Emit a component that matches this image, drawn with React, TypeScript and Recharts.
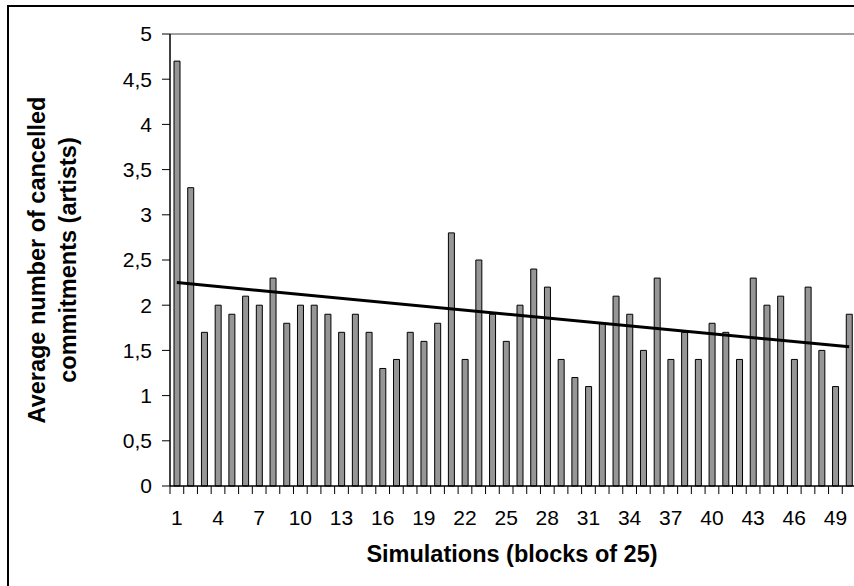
import { ComposedChart, Bar, Line, XAxis, YAxis, ReferenceLine } from "recharts"

const blocks = Array.from({ length: 50 }, (_, i) => i + 1)

const cancelled = [
  4.7, 3.3, 1.7, 2.0, 1.9, 2.1, 2.0, 2.3, 1.8, 2.0,
  2.0, 1.9, 1.7, 1.9, 1.7, 1.3, 1.4, 1.7, 1.6, 1.8,
  2.8, 1.4, 2.5, 1.9, 1.6, 2.0, 2.4, 2.2, 1.4, 1.2,
  1.1, 1.8, 2.1, 1.9, 1.5, 2.3, 1.4, 1.7, 1.4, 1.8,
  1.7, 1.4, 2.3, 2.0, 2.1, 1.4, 2.2, 1.5, 1.1, 1.9,
]

// linear trend line at first and last block
const trendStart = 2.25
const trendEnd = 1.54

const yTicks = [0, 0.5, 1, 1.5, 2, 2.5, 3, 3.5, 4, 4.5, 5]

const data = blocks.map((b, i) => ({
  block: b,
  value: cancelled[i],
  trend: i === 0 ? trendStart : i === blocks.length - 1 ? trendEnd : null,
}))

const FONT = "'Liberation Sans', Arial, sans-serif"
const BAND = 686 / 50

const XTick = (props: any) => {
  const { x, y, payload, index } = props
  const lx = x - BAND / 2
  return (
    <g>
      <line x1={lx} y1={y} x2={lx} y2={y + 8} stroke="#000" strokeWidth={1} />
      {index % 3 === 0 && (
        <text x={x} y={y + 39} textAnchor="middle" fontFamily={FONT} fontSize={21} fill="#000">
          {payload.value}
        </text>
      )}
    </g>
  )
}

export default function App() {
  return (
    <div style={{ position: "absolute", left: 0, top: 0, width: 854, height: 586, overflow: "hidden", background: "#fff" }}>
      <div style={{ position: "absolute", left: 7, top: 5, width: 900, height: 700, border: "2px solid #000", boxSizing: "border-box" }} />
      <div style={{ position: "absolute", left: 0, top: 0 }}>
        <ComposedChart width={870} height={586} data={data} margin={{ top: 34, right: 14, left: 0, bottom: 0 }}>
          <XAxis
            dataKey="block"
            interval={0}
            height={100}
            tickLine={false}
            tickSize={0}
            tickMargin={0}
            axisLine={{ stroke: "#000", strokeWidth: 1.5 }}
            tick={<XTick />}
          />
          <YAxis
            domain={[0, 5]}
            ticks={yTicks}
            width={170}
            tickSize={8}
            tickMargin={10}
            axisLine={{ stroke: "#000", strokeWidth: 1.5 }}
            tickLine={{ stroke: "#000" }}
            tick={{ fontFamily: FONT, fontSize: 21, fill: "#000" }}
            tickFormatter={(v: number) => String(v).replace(".", ",")}
          />
          <ReferenceLine y={5} stroke="#a0a0a0" strokeWidth={2} />
          <Bar dataKey="value" fill="#969696" stroke="#000" strokeWidth={1} barSize={6} isAnimationActive={false} />
          <Line dataKey="trend" stroke="#000" strokeWidth={3} dot={false} connectNulls isAnimationActive={false} />
        </ComposedChart>
      </div>
      <div
        style={{
          position: "absolute", left: 312, top: 539, width: 400, textAlign: "center",
          fontFamily: FONT, fontWeight: "bold", fontSize: 23.5, lineHeight: "31px", color: "#000",
        }}
      >
        Simulations (blocks of 25)
      </div>
      <div
        style={{
          position: "absolute", left: 53 - 200, top: 260 - 31, width: 400, height: 62,
          transform: "rotate(-90deg)", textAlign: "center",
          fontFamily: FONT, fontWeight: "bold", fontSize: 23.5, lineHeight: "31px", color: "#000",
        }}
      >
        Average number of cancelled
        <br />
        commitments (artists)
      </div>
    </div>
  )
}
